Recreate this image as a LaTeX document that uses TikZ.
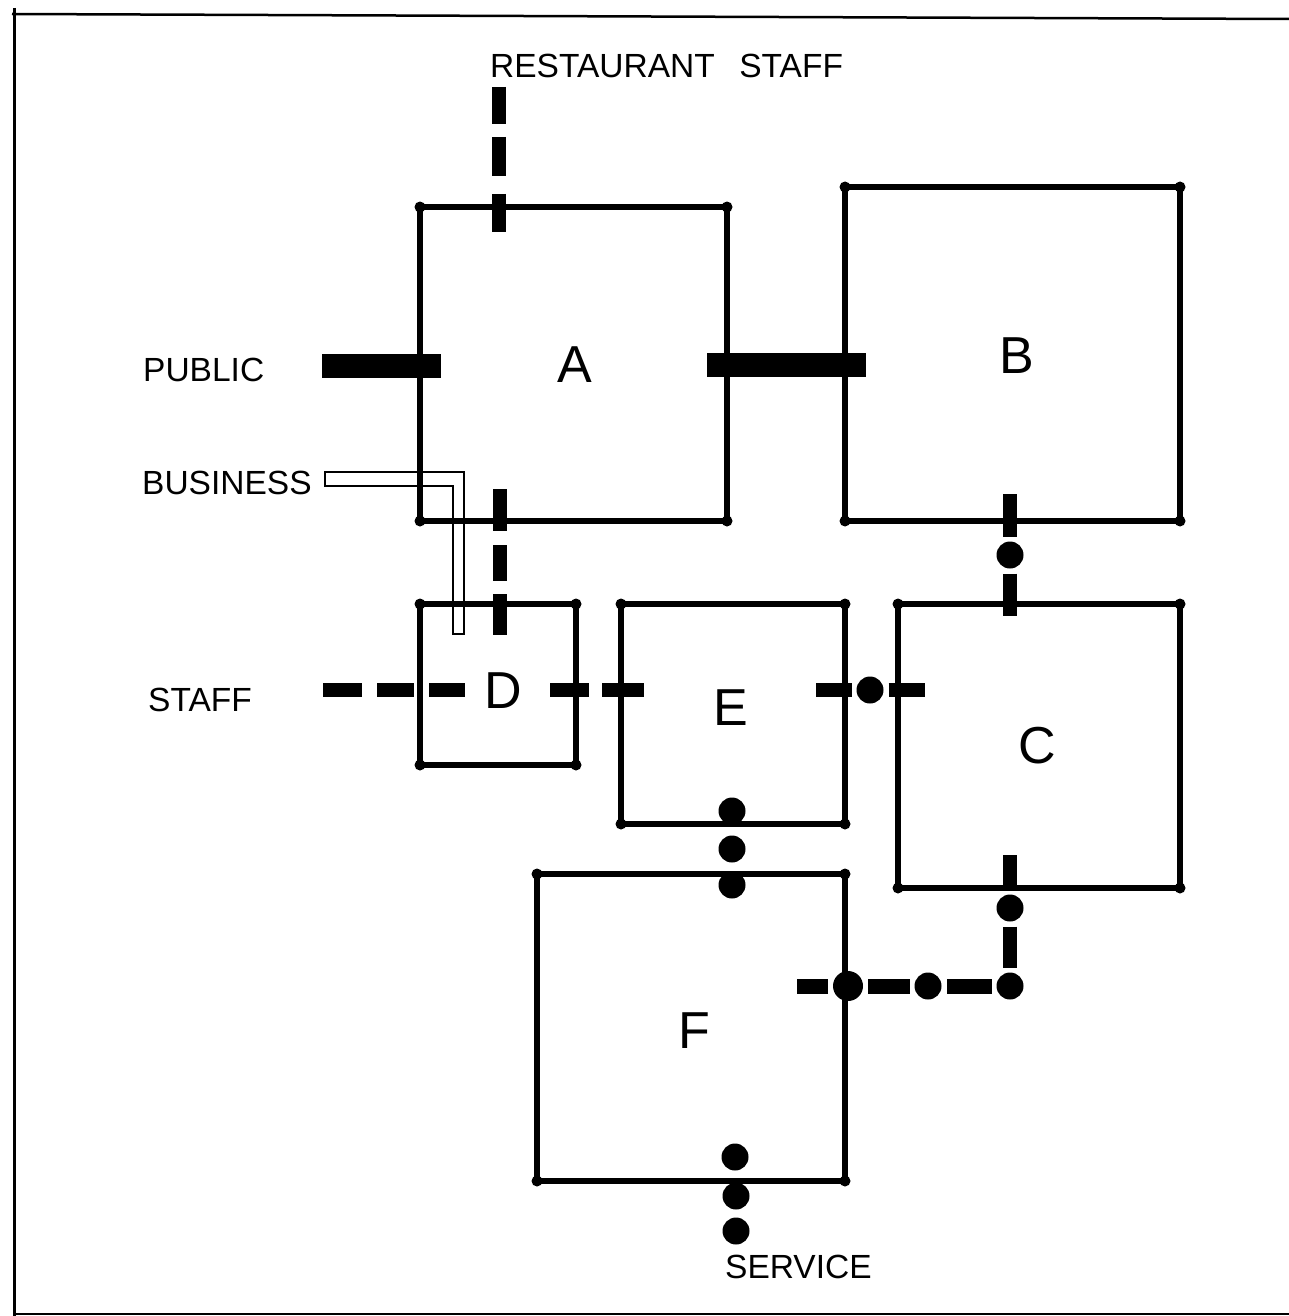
\documentclass[tikz,border=0pt]{standalone}
\usepackage{fontspec}
\setmainfont{Liberation Sans}
\usetikzlibrary{positioning}

\begin{document}
\begin{tikzpicture}[
  x=1pt, y=-1pt,
  room/.style={rectangle, draw=black, line width=6pt, anchor=north west,
    inner sep=0pt, outer sep=0pt},
  roomlbl/.style={anchor=base, inner sep=0pt, font=\fontsize{52}{56}\selectfont},
  lbl/.style={anchor=base west, inner sep=0pt, font=\fontsize{33.5}{38}\selectfont},
  dotnode/.style={circle, fill=black, inner sep=0pt, minimum size=27pt, outer sep=5pt},
  pubway/.style={line width=24pt},
  way/.style={line width=14pt},
  bizway/.style={line width=2.5pt, line join=miter}
]
\useasboundingbox (0,0) rectangle (1289,1316);

%─── FRAME ───────────────────────────────────────────────────────────────────
\draw[line width=3pt] (14,8) -- (14,1316);
\draw[line width=2.5pt] (12,14) -- (1289,19);
\draw[line width=2.5pt] (14,1314) -- (1289,1314);

%─── ROOMS ───────────────────────────────────────────────────────────────────
\node[room, minimum width=307pt, minimum height=314pt] (roomA) at (420,207) {};
\node[room, minimum width=335pt, minimum height=334pt] (roomB) at (845,187) {};
\node[room, minimum width=282pt, minimum height=284pt] (roomC) at (898,604) {};
\node[room, minimum width=156pt, minimum height=161pt] (roomD) at (420,604) {};
\node[room, minimum width=224pt, minimum height=220pt] (roomE) at (621,604) {};
\node[room, minimum width=308pt, minimum height=307pt] (roomF) at (537,874) {};

\foreach \r in {roomA,roomB,roomC,roomD,roomE,roomF}
  \foreach \c in {north west,north east,south west,south east}
    \fill (\r.\c) circle (5.5pt);

\node[roomlbl] (lblA) at (575,382)  {A};
\node[roomlbl] (lblB) at (1017,373) {B};
\node[roomlbl] (lblC) at (1037,763) {C};
\node[roomlbl] (lblD) at (503,708)  {D};
\node[roomlbl] (lblE) at (731,725)  {E};
\node[roomlbl] (lblF) at (694,1048) {F};

%─── LABELS ──────────────────────────────────────────────────────────────────
\node[lbl] (lblRest)     at (490,78)   {RESTAURANT\ \ \hspace{6pt}STAFF};
\node[lbl] (lblPublic)   at (143,381)  {PUBLIC};
\node[lbl] (lblBusiness) at (142,494)  {BUSINESS};
\node[lbl] (lblStaff)    at (148,711)  {STAFF};
\node[lbl] (lblService)  at (725,1278) {SERVICE};

%─── ROUTE ENDS ──────────────────────────────────────────────────────────────
\coordinate (publicEnd) at (322,366);
\coordinate (publicIn)  at (441,366);
\coordinate (abL)  at (707,365);
\coordinate (abR)  at (866,365);
\coordinate (restTop)   at (498.5,87);
\coordinate (restIn)    at (498.5,232);
\coordinate (adTop)     at (499.5,489);
\coordinate (adBot)     at (499.5,635);
\coordinate (staffEnd)  at (323,690);
\coordinate (staffIn)   at (465,690);
\coordinate (deL)  at (550,690);
\coordinate (deR)  at (644,690);
\coordinate (ecL)  at (816,690);
\coordinate (ecR)  at (925,690);
\coordinate (bcTop) at (1010,494);
\coordinate (bcBot) at (1010,616);
\coordinate (cfTop) at (1010,855);
\coordinate (cfEnd) at (797,986);
\coordinate (bizEnd)  at (325,472);
\coordinate (bizOut)  at (464,472);
\coordinate (bizBotR) at (464,634);
\coordinate (bizBotL) at (453,634);
\coordinate (bizIn)   at (453,486);
\coordinate (bizEndB) at (325,486);

%─── DOTS ────────────────────────────────────────────────────────────────────
\node[dotnode] (ecDot) at (870,690)  {};
\node[dotnode] (bcDot) at (1010,555) {};
\node[dotnode] (efA)   at (732,811)  {};
\node[dotnode] (efB)   at (732,849)  {};
\node[dotnode] (efC)   at (732,885)  {};
\node[dotnode] (svA)   at (735,1157) {};
\node[dotnode] (svB)   at (736,1196) {};
\node[dotnode] (svC)   at (736,1231) {};
\node[dotnode] (cfA)   at (1010,908) {};
\node[dotnode] (cfB)   at (1010,986) {};
\node[dotnode] (cfC)   at (928,986)  {};
\node[dotnode, minimum size=30pt] (cfD) at (848,986) {};

%─── ROUTES ──────────────────────────────────────────────────────────────────

% public
\draw[pubway] (publicEnd) -- (publicIn);
\draw[pubway] (abL) -- (abR);

% restaurant staff, A to D
\draw[way, dash pattern=on 37pt off 13pt on 39pt off 18pt on 38pt off 20pt] (restTop) -- (restIn);
\draw[way, dash pattern=on 42pt off 14pt on 36pt off 13pt on 41pt off 20pt] (adTop) -- (adBot);

% staff
\draw[way, dash pattern=on 39pt off 15pt on 37pt off 15pt on 36pt off 20pt] (staffEnd) -- (staffIn);
\draw[way, dash pattern=on 39pt off 13pt on 42pt off 20pt] (deL) -- (deR);

% E to C, B to C
\draw[way] (ecL) -- (ecDot);
\draw[way] (ecDot) -- (ecR);
\draw[way] (bcTop) -- (bcDot);
\draw[way] (bcDot) -- (bcBot);

% C to F
\draw[way] (cfTop) -- (cfA);
\draw[way] (cfA) -- (cfB);
\draw[way, line width=15pt] (cfB) -- (cfC);
\draw[way, line width=15pt] (cfC) -- (cfD);
\draw[way, line width=15pt] (cfD) -- (cfEnd);

% business
\draw[bizway] (bizEnd) -- (bizOut) -- (bizBotR) -- (bizBotL) -- (bizIn) -- (bizEndB) -- cycle;

\end{tikzpicture}
\end{document}
